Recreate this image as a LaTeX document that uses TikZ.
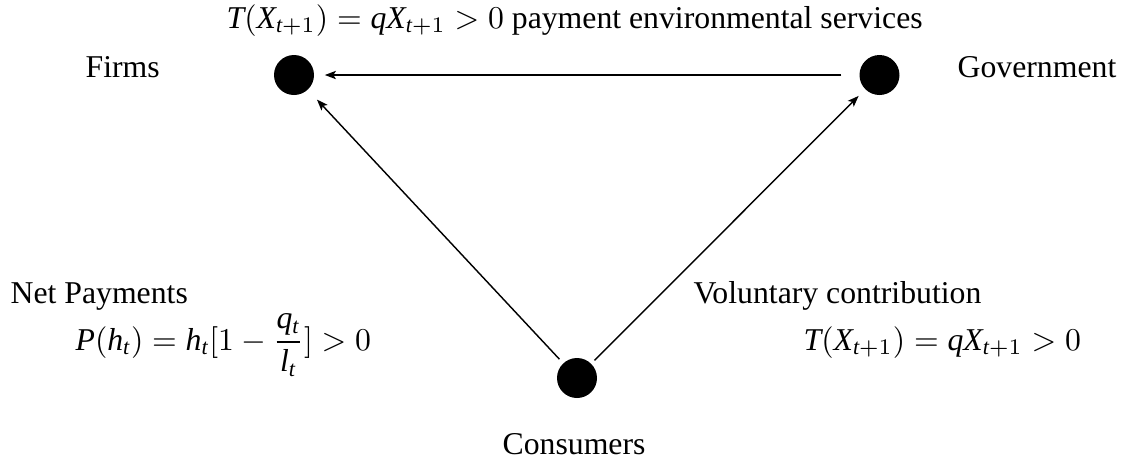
\documentclass[tikz,border=0pt]{standalone}
\usepackage{fontspec}
\setmainfont{Liberation Serif}
\DeclareSymbolFont{cmletters}{OML}{cmm}{m}{it}
\DeclareMathSymbol{>}{\mathrel}{cmletters}{"3E}
\DeclareSymbolFont{letters}{TU}{\rmdefault}{m}{it}
\usetikzlibrary{arrows.meta}
\begin{document}
\begin{tikzpicture}[x=0.315pt,y=-0.315pt,
  agent/.style={circle,fill=black,inner sep=0pt,minimum size=12.6pt},
  lbl/.style={inner sep=0pt,anchor=base west},
  flow/.style={-{Stealth[length=3.5pt,width=2.6pt,inset=0.8pt]},line width=0.45pt}]
\useasboundingbox (0,0) rectangle (1123,464);
\node[agent] (f) at (294,75) {};
\node[agent] (g) at (879.5,75) {};
\node[agent] (c) at (577,378) {};
\node[lbl] (title) at (226,28) {$T(X_{t+1})=qX_{t+1}>0$ payment environmental services};
\node[lbl] (lf) at (85,77) {Firms};
\node[lbl] (lg) at (957,77) {Government};
\node[lbl] (lc) at (502,454) {Consumers};
\node[lbl] (lnp) at (10,303) {Net Payments};
\node[lbl] (lp) at (75,350) {$\displaystyle P(h_t)=h_t[1-\frac{q_t}{l_t}]>0$};
\node[lbl] (lv) at (693,303) {Voluntary contribution};
\node[lbl] (lt) at (803,350) {$T(X_{t+1})=qX_{t+1}>0$};
\draw[flow,shorten <=5.5pt,shorten >=3.2pt] (g) -- (f);
\draw[flow,shorten <=1.6pt,shorten >=4.1pt] (c) -- (f);
\draw[flow,shorten <=1.3pt,shorten >=2.8pt] (c) -- (g);
\end{tikzpicture}
\end{document}
